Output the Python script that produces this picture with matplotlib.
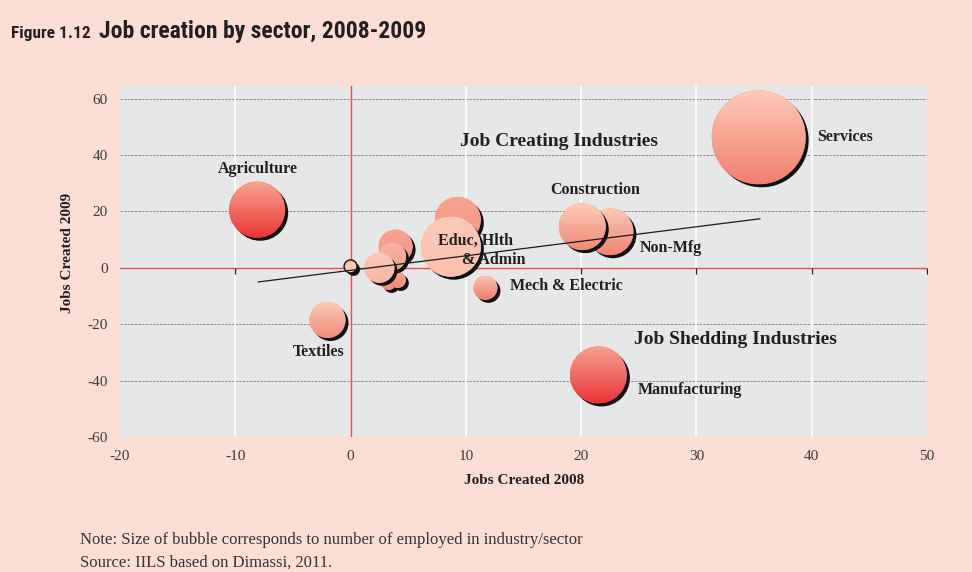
import numpy as np
import matplotlib
matplotlib.use("Agg")
import matplotlib.pyplot as plt
from matplotlib.patches import Ellipse
from matplotlib.markers import TICKDOWN
from matplotlib.colors import to_rgba
from matplotlib import font_manager

plt.rcParams["axes.unicode_minus"] = False

# ---- data -------------------------------------------------------------
sectors = ["Services", "Agriculture", "Manufacturing", "Textiles", "Non-Mfg",
           "Construction", "Mech & Electric", "", "Educ, Hlth & Admin",
           "", "", "", "", "", ""]
jobs_2008 = [35.4, -8.1, 21.5, -2.0, 22.5, 20.1, 11.7, 9.3, 8.7,
             3.3, 4.1, 3.9, 3.6, 2.5, 0.0]
jobs_2009 = [46.3, 20.6, -38.0, -18.5, 12.8, 14.6, -7.1, 17.0, 7.5,
             -5.0, -4.3, 7.5, 4.0, 0.0, 0.5]
employed = [22.1, 7.84, 8.1, 3.24, 5.5, 5.5, 1.44, 5.3, 9.0,
            0.64, 0.64, 2.9, 1.96, 2.25, 0.42]

trend_x = [-8.0, 35.5]
trend_y = [-5.0, 17.4]

x_ticks = [-20, -10, 0, 10, 20, 30, 40, 50]
y_ticks = [-60, -40, -20, 0, 20, 40, 60]

# ---- styles -----------------------------------------------------------
# (top colour, bottom colour) of each bubble's vertical gradient
shades = [("#FCCBB9", "#F0806E"), ("#F8A590", "#EC3538"), ("#F7A38F", "#EC3339"),
          ("#FCC9B7", "#F28E7C"), ("#FCC8B6", "#EF8472"), ("#FDCBB9", "#F08A78"),
          ("#FCC6B4", "#EF7B6B"), ("#F6A590", "#F39581"), ("#FCC8B7", "#FBC0AE"),
          ("#F6A590", "#F08A78"), ("#F6A590", "#F08A78"), ("#F6A590", "#F39683"),
          ("#F9B5A2", "#F4A08C"), ("#FCC8B7", "#F8B4A2"), ("#FBC5B4", "#FBC5B4")]
SERIF = "Liberation Serif"
INK = "#231F20"
RADIUS_PX = 10.0   # bubble radius in pixels per sqrt(employed)

# narrowest available sans for the heading
_installed = {f.name for f in font_manager.fontManager.ttflist}
HEAD = next((f for f in ["Roboto Condensed", "Liberation Sans Narrow",
                         "Open Sans Condensed", "Roboto"] if f in _installed),
            "DejaVu Sans")

fig = plt.figure(figsize=(9.72, 5.72), dpi=100, facecolor="#FDDED5")
ax = fig.add_axes([120 / 972, (572 - 437) / 572, 807 / 972, 351 / 572])
ax.set_xlim(-20, 50)
ax.set_ylim(-60, 64.5)
ax.set_facecolor("#E6E7E8")
for s in ax.spines.values():
    s.set_visible(False)

# grid
for y in y_ticks:
    if y not in (0, -60):
        ax.axhline(y, color="#8a8a8a", lw=0.7, ls=(0, (2.5, 1.2)), zorder=1)
for x in x_ticks:
    if x not in (-20, 0, 50):
        ax.axvline(x, color="white", lw=1.3, zorder=1)
ax.axhline(0, color="#EF4A4F", lw=1.0, zorder=1.5)
ax.axvline(0, color="#EF4A4F", lw=1.0, zorder=1.5)
ax.plot(x_ticks[1:], [0] * (len(x_ticks) - 1), ls="none", marker=TICKDOWN,
        ms=4, mew=0.9, color="#222222", zorder=1.6)

ax.set_xticks(x_ticks)
ax.set_yticks(y_ticks)
ax.tick_params(length=0, labelsize=11, labelcolor="#3a3a3a")
ax.tick_params(axis="x", pad=9)
ax.tick_params(axis="y", pad=9)
for lab in ax.get_xticklabels() + ax.get_yticklabels():
    lab.set_fontfamily(SERIF)

# pixel scale of data units
p0 = ax.transData.transform((0, 0))
sx = ax.transData.transform((1, 0))[0] - p0[0]
sy = ax.transData.transform((0, 1))[1] - p0[1]

# bubbles: drop shadow, gradient body clipped to the circle, optional outline
for i, (x, y, e, (c_top, c_bot)) in enumerate(zip(jobs_2008, jobs_2009, employed, shades)):
    r = RADIUS_PX * np.sqrt(e)
    rx, ry = r / sx, r / sy
    z = 3 + 3 * i
    ax.add_patch(Ellipse((x + 3 / sx, y - 3 / sy), 2 * rx, 2 * ry,
                         facecolor="#111111", edgecolor="none", zorder=z))
    body = Ellipse((x, y), 2 * rx, 2 * ry, facecolor=c_bot, edgecolor="none",
                   zorder=z + 0.5)
    ax.add_patch(body)
    t = np.linspace(0, 1, 64)[:, None, None]
    grad = (1 - t) * np.array(to_rgba(c_top)) + t * np.array(to_rgba(c_bot))
    im = ax.imshow(grad, extent=[x - rx, x + rx, y - ry, y + ry], origin="upper",
                   aspect="auto", interpolation="bilinear", zorder=z + 1)
    im.set_clip_path(body)
    if e < 0.5:
        ax.add_patch(Ellipse((x, y), 2 * rx, 2 * ry, facecolor="none",
                             edgecolor="#111111", lw=1.0, zorder=z + 2))

ax.set_xlim(-20, 50)
ax.set_ylim(-60, 64.5)

# trend line
ax.plot(trend_x, trend_y, color="#1a1a1a", lw=0.9, zorder=60)

# bubble labels
lab_kw = dict(fontfamily=SERIF, fontweight="bold", fontsize=11.5, color=INK,
              textcoords="offset points", zorder=70)
PT = 0.72


def label(idx, text, dx, dy, ha="left"):
    ax.annotate(text, (jobs_2008[idx], jobs_2009[idx]),
                xytext=(dx * PT, dy * PT), ha=ha, va="center", **lab_kw)


label(0, sectors[0], 59, 0)
label(1, sectors[1], 1, 41, "center")
label(2, sectors[2], 39, -15)
label(3, sectors[3], -9, -32, "center")
label(4, sectors[4], 30, -16)
label(5, sectors[5], 13, 37, "center")
label(6, sectors[6], 25, 2)
label(8, "Educ, Hlth", -13, 6)
label(8, "& Admin", 11, -13)

ax.text(18.1, 44.8, "Job Creating Industries", ha="center", va="center",
        fontfamily=SERIF, fontweight="bold", fontsize=14, color=INK, zorder=70)
ax.text(33.4, -25.3, "Job Shedding Industries", ha="center", va="center",
        fontfamily=SERIF, fontweight="bold", fontsize=14, color=INK, zorder=70)

# axis titles
fig.text(524 / 972, 1 - 481 / 572, "Jobs Created 2008", ha="center", va="center",
         fontfamily=SERIF, fontweight="bold", fontsize=11, color=INK)
fig.text(67 / 972, 1 - 253 / 572, "Jobs Created 2009", ha="center", va="center",
         rotation=90, fontfamily=SERIF, fontweight="bold", fontsize=11, color=INK)

# figure heading: small figure number followed by the larger title
fig_no = fig.text(11 / 972, 1 - 38 / 572, "Figure 1.12", ha="left", va="baseline",
                  fontfamily=HEAD, fontweight="bold", fontsize=12.5, color=INK)
renderer = fig.canvas.get_renderer()
x_end = fig_no.get_window_extent(renderer).x1
fig.text((x_end + 8) / 972, 1 - 38 / 572, "Job creation by sector, 2008-2009",
         ha="left", va="baseline", fontfamily=HEAD, fontweight="bold",
         fontsize=17, color=INK)

# notes
fig.text(80 / 972, 1 - 540 / 572,
         "Note: Size of bubble corresponds to number of employed in industry/sector",
         ha="left", va="center", fontfamily=SERIF, fontsize=12, color="#333333")
fig.text(80 / 972, 1 - 563 / 572, "Source: IILS based on Dimassi, 2011.",
         ha="left", va="center", fontfamily=SERIF, fontsize=12, color="#333333")

fig.savefig("out.png", dpi=100, facecolor=fig.get_facecolor())
